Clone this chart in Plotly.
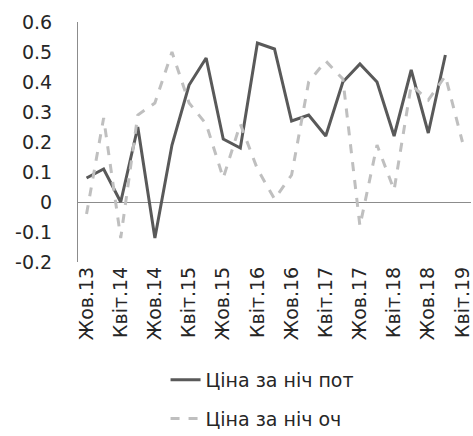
import plotly.graph_objects as go

categories = ["Жов.13", "Січ.14", "Квіт.14", "Лип.14", "Жов.14", "Січ.15", "Квіт.15", "Лип.15",
              "Жов.15", "Січ.16", "Квіт.16", "Лип.16", "Жов.16", "Січ.17", "Квіт.17", "Лип.17",
              "Жов.17", "Січ.18", "Квіт.18", "Лип.18", "Жов.18", "Січ.19", "Квіт.19"]
tick_labels = categories[::2]

y_tick_values = [-0.2, -0.1, 0, 0.1, 0.2, 0.3, 0.4, 0.5, 0.6]
y_tick_labels = ["-0.2", "-0.1", "0", "0.1", "0.2", "0.3", "0.4", "0.5", "0.6"]

series_pot = [0.08, 0.11, 0.0, 0.25, -0.12, 0.19, 0.39, 0.48, 0.21, 0.18, 0.53, 0.51,
              0.27, 0.29, 0.22, 0.40, 0.46, 0.40, 0.22, 0.44, 0.23, 0.49]
series_och = [-0.04, 0.28, -0.12, 0.29, 0.33, 0.50, 0.33, 0.26, 0.08, 0.26, 0.11, 0.01,
              0.09, 0.40, 0.47, 0.41, -0.08, 0.19, 0.04, 0.39, 0.34, 0.42, 0.20]

font_family = "DejaVu Sans"

fig = go.Figure()
fig.add_trace(go.Scatter(x=categories[:len(series_pot)], y=series_pot, mode="lines",
                         name="Ціна за ніч пот", line=dict(color="#595959", width=3),
                         legendgroup="a"))
fig.add_trace(go.Scatter(x=categories, y=series_och, mode="lines",
                         name="Ціна за ніч оч", line=dict(color="#BFBFBF", width=3, dash="dash"),
                         legendgroup="b"))

fig.update_layout(
    width=473, height=436,
    margin=dict(l=78, r=2, t=22, b=174, autoexpand=False),
    paper_bgcolor="white", plot_bgcolor="white",
    font=dict(family=font_family, size=19, color="#262626"),
    xaxis=dict(type="category", categoryorder="array", categoryarray=categories,
               tickmode="array", tickvals=tick_labels, ticktext=tick_labels,
               tickangle=-90, showgrid=False, showline=False, zeroline=False,
               ticks="", tickfont=dict(size=19), automargin=False,
               range=[-0.5, len(categories) - 0.5]),
    yaxis=dict(range=[-0.2, 0.6], tickmode="array", tickvals=y_tick_values,
               ticktext=y_tick_labels, showgrid=False,
               showline=True, linecolor="#8C8C8C", linewidth=1,
               zeroline=True, zerolinecolor="#8C8C8C", zerolinewidth=1,
               ticks="", tickfont=dict(size=19), ticklabelstandoff=21, automargin=False),
    legend=dict(x=0.35, y=0.172, xref="container", yref="container",
                xanchor="left", yanchor="top", tracegroupgap=11,
                font=dict(size=19), bgcolor="rgba(0,0,0,0)"),
)

fig.write_html("out.html")
